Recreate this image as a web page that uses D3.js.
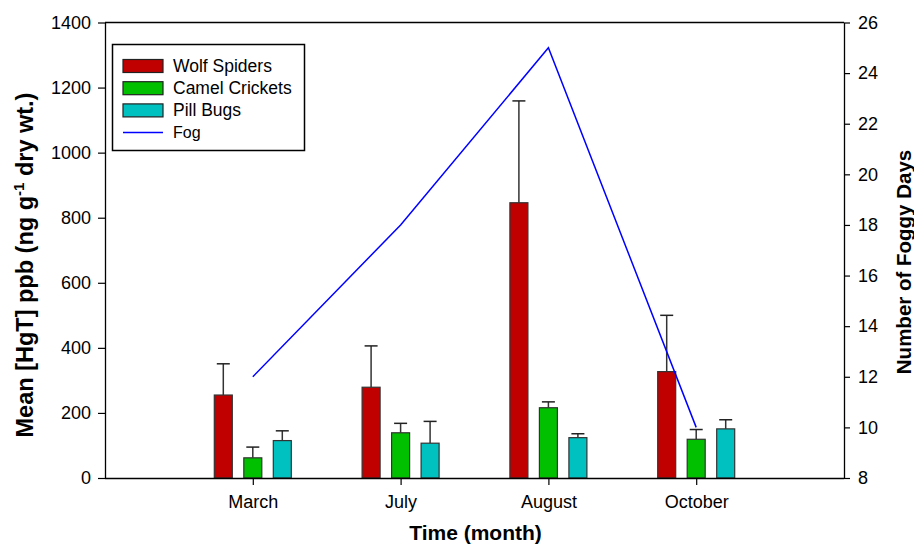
<!DOCTYPE html>
<html>
<head>
<meta charset="utf-8">
<script src="https://cdn.jsdelivr.net/npm/d3@7"></script>
<style>
  html, body { margin: 0; padding: 0; background: #fff; }
  svg { display: block; font-family: "Liberation Sans", Arial, sans-serif; }
</style>
</head>
<body>
<svg id="chart" width="914" height="545"></svg>
<script>
const months = ["March", "July", "August", "October"];
const seriesNames = ["Wolf Spiders", "Camel Crickets", "Pill Bugs"];
const wolfSpiders = [255, 279, 846, 327];
const wolfSpidersErr = [96, 127, 313, 173];
const camelCrickets = [62, 139, 216, 119];
const camelCricketsErr = [33, 29, 18, 30];
const pillBugs = [115, 107, 124, 151];
const pillBugsErr = [30, 67, 12, 28];
const fogDays = [12, 18, 25, 10];
const leftTicks = [0, 200, 400, 600, 800, 1000, 1200, 1400];
const rightTicks = [8, 10, 12, 14, 16, 18, 20, 22, 24, 26];

const colors = ["#c00000", "#00c000", "#00c0c0"];
const series = [
  {name: seriesNames[0], values: wolfSpiders, err: wolfSpidersErr, color: colors[0]},
  {name: seriesNames[1], values: camelCrickets, err: camelCricketsErr, color: colors[1]},
  {name: seriesNames[2], values: pillBugs, err: pillBugsErr, color: colors[2]}
];

const svg = d3.select("#chart");
const L = 105, R = 844, T = 22.5, B = 478;

const x = d3.scaleLinear().domain([0, months.length + 1]).range([L, R]);
const y = d3.scaleLinear().domain([0, 1400]).range([B, T]);
const y2 = d3.scaleLinear().domain([8, 26]).range([B, T]);

const barW = 18, offset = 29.5;

// frame top line
svg.append("line").attr("x1", L).attr("x2", R).attr("y1", T).attr("y2", T)
  .attr("stroke", "#000").attr("stroke-width", 1.3);

// bars
series.forEach((s, si) => {
  const g = svg.append("g");
  months.forEach((m, i) => {
    const cx = x(i + 1) + (si - 1) * offset;
    g.append("line").attr("x1", cx).attr("x2", cx)
      .attr("y1", y(s.values[i])).attr("y2", y(s.values[i] + s.err[i]))
      .attr("stroke", "#333").attr("stroke-width", 1.5);
    g.append("line").attr("x1", cx - 6.5).attr("x2", cx + 6.5)
      .attr("y1", y(s.values[i] + s.err[i])).attr("y2", y(s.values[i] + s.err[i]))
      .attr("stroke", "#222").attr("stroke-width", 1.5);
    g.append("rect")
      .attr("x", cx - barW / 2).attr("width", barW)
      .attr("y", y(s.values[i])).attr("height", y(0) - y(s.values[i]))
      .attr("fill", s.color).attr("stroke", "#333").attr("stroke-width", 1.2);
  });
});

// fog line
const line = d3.line().x((d, i) => x(i + 1)).y(d => y2(d));
svg.append("path").datum(fogDays).attr("d", line)
  .attr("fill", "none").attr("stroke", "#0000ff").attr("stroke-width", 1.5);

// axes
const fontSize = "18px";
const xAxis = svg.append("g").attr("transform", `translate(0,${B})`)
  .call(d3.axisBottom(x).tickValues(months.map((m, i) => i + 1))
    .tickFormat((d) => months[d - 1]).tickSize(7).tickPadding(10).tickSizeOuter(0));
const yAxis = svg.append("g").attr("transform", `translate(${L},0)`)
  .call(d3.axisLeft(y).tickValues(leftTicks).tickFormat(d3.format("d"))
    .tickSize(7).tickPadding(7).tickSizeOuter(0));
const y2Axis = svg.append("g").attr("transform", `translate(${R},0)`)
  .call(d3.axisRight(y2).tickValues(rightTicks).tickFormat(d3.format("d"))
    .tickSize(6).tickPadding(8).tickSizeOuter(0));

[xAxis, yAxis, y2Axis].forEach(a => {
  a.select(".domain").attr("stroke", "#000").attr("stroke-width", 1.3);
  a.selectAll(".tick line").attr("stroke", "#000").attr("stroke-width", 1.2);
  a.selectAll(".tick text").attr("fill", "#000").style("font-size", fontSize)
    .style("font-family", "'Liberation Sans', Arial, sans-serif");
});
xAxis.select(".domain").attr("d", `M${L},0.5H${R}`);

// axis titles
svg.append("text").attr("x", (L + R) / 2 + 1).attr("y", 540)
  .attr("text-anchor", "middle").style("font-size", "21px").style("font-weight", "bold")
  .text("Time (month)");

const lt = svg.append("text")
  .attr("transform", "translate(33,265) rotate(-90)")
  .attr("text-anchor", "middle").style("font-size", "23.5px").style("font-weight", "bold");
lt.append("tspan").text("Mean [HgT] ppb (ng g");
lt.append("tspan").attr("dy", -9).style("font-size", "15px").text("-1");
lt.append("tspan").attr("dy", 9).text(" dry wt.)");

svg.append("text")
  .attr("transform", "translate(911,262) rotate(-90)")
  .attr("text-anchor", "middle").style("font-size", "20.5px").style("font-weight", "bold")
  .text("Number of Foggy Days");

// legend
const lg = svg.append("g");
lg.append("rect").attr("x", 112.5).attr("y", 44.5).attr("width", 192).attr("height", 106)
  .attr("fill", "#fff").attr("stroke", "#000").attr("stroke-width", 1.5);
series.forEach((s, i) => {
  const cy = 66 + i * 22.2;
  lg.append("rect").attr("x", 123).attr("y", cy - 6.5).attr("width", 40).attr("height", 13)
    .attr("fill", s.color).attr("stroke", "#222").attr("stroke-width", 1.2);
  lg.append("text").attr("x", 173).attr("y", cy + 6).style("font-size", "17.5px").text(s.name);
});
lg.append("line").attr("x1", 123).attr("x2", 163).attr("y1", 132.5).attr("y2", 132.5)
  .attr("stroke", "#0000ff").attr("stroke-width", 1.5);
lg.append("text").attr("x", 173).attr("y", 138).style("font-size", "16px").text("Fog");
</script>
</body>
</html>
